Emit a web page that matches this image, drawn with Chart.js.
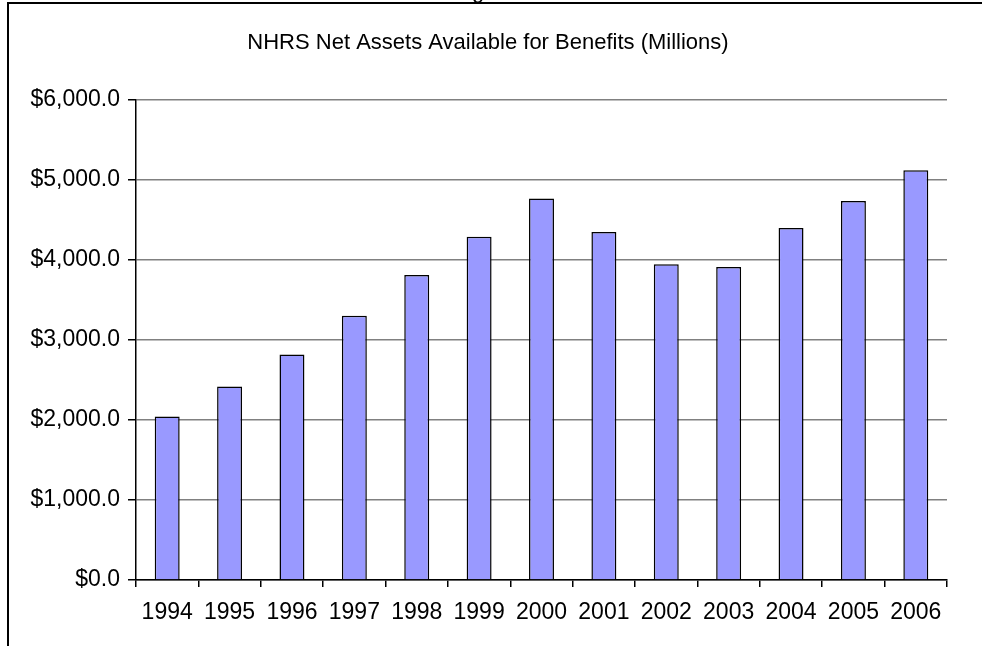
<!DOCTYPE html>
<html>
<head>
<meta charset="utf-8">
<title>NHRS Net Assets</title>
<script src="https://cdn.jsdelivr.net/npm/chart.js@4.4.1/dist/chart.umd.min.js"></script>
<style>
  html, body { margin: 0; padding: 0; background: #fff; }
  #wrap { width: 982px; height: 646px; }
</style>
</head>
<body>
<div id="wrap"><canvas id="myChart" width="982" height="646"></canvas></div>
<script>
const years = ['1994', '1995', '1996', '1997', '1998', '1999', '2000',
               '2001', '2002', '2003', '2004', '2005', '2006'];
const netAssets = [2041, 2416, 2816, 3300, 3809, 4284, 4762,
                   4346, 3941, 3909, 4396, 4733, 5116];
const yTicks = [0, 1000, 2000, 3000, 4000, 5000, 6000];
const chartTitle = 'NHRS Net Assets Available for Benefits (Millions)';

const FONT = 'Liberation Sans, Arial, sans-serif';

// frame lines round the sheet and the tail of the heading above it
const framePlugin = {
    id: 'frame',
    afterDraw(chart) {
        const ctx = chart.ctx;
        ctx.save();
        ctx.strokeStyle = '#000';
        ctx.lineWidth = 2;
        ctx.beginPath();
        ctx.moveTo(8, 646);
        ctx.lineTo(8, 3);
        ctx.lineTo(982, 3);
        ctx.stroke();
        ctx.fillStyle = '#000';
        ctx.font = '22px ' + FONT;
        ctx.textBaseline = 'alphabetic';
        ctx.fillText('g', 472, -2);
        ctx.restore();
    }
};

function money(v) {
    return '$' + v.toLocaleString('en-US', {minimumFractionDigits: 1, maximumFractionDigits: 1});
}

const ctx = document.getElementById('myChart').getContext('2d');
const myChart = new Chart(ctx, {
    type: 'bar',
    data: {
        labels: years,
        datasets: [{
            data: netAssets,
            backgroundColor: '#9999FF',
            borderColor: '#000',
            borderWidth: 1.5,
            barPercentage: 0.4,
            categoryPercentage: 1.0
        }]
    },
    options: {
        responsive: false,
        animation: false,
        layout: { padding: { left: 29, right: 35, top: 0, bottom: 0 } },
        plugins: {
            legend: { display: false },
            tooltip: { enabled: false },
            title: {
                display: true,
                text: chartTitle,
                color: '#000',
                font: { family: FONT, size: 22, weight: 'normal' },
                padding: { top: 30, bottom: 43 }
            }
        },
        scales: {
            x: {
                offset: true,
                grid: {
                    offset: true,
                    drawOnChartArea: true,
                    color: (c) => c.index === years.length ? '#808080' : 'rgba(0,0,0,0)',
                    tickColor: '#000',
                    tickLength: 7,
                    lineWidth: 1.5
                },
                border: { color: '#000', width: 1.5 },
                ticks: {
                    color: '#000',
                    font: { family: FONT, size: 23 },
                    padding: 12,
                    maxRotation: 0,
                    autoSkip: false
                },
                afterFit(scale) { scale.height = 66; }
            },
            y: {
                min: 0,
                max: 6000,
                afterBuildTicks(scale) {
                    scale.ticks = yTicks.map(v => ({ value: v }));
                },
                grid: {
                    color: '#808080',
                    tickColor: '#000',
                    tickLength: 8,
                    lineWidth: 1.5
                },
                border: { color: '#000', width: 1.5 },
                ticks: {
                    color: '#000',
                    font: { family: FONT, size: 23 },
                    padding: 8,
                    callback: (v) => money(v)
                },
                afterFit(scale) { scale.width = 107; }
            }
        }
    },
    plugins: [framePlugin]
});
</script>
</body>
</html>
